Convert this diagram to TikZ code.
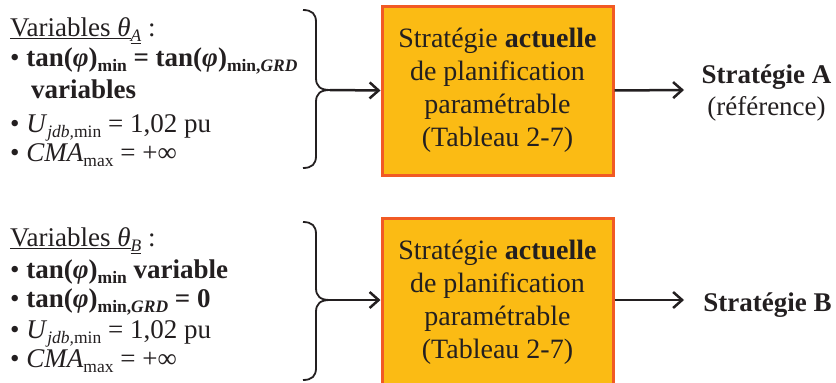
\documentclass[tikz,border=0pt]{standalone}
\usepackage{fontspec}
\setmainfont{Liberation Serif}
\usetikzlibrary{arrows.meta}
\definecolor{boxfill}{RGB}{251,187,20}
\definecolor{boxedge}{RGB}{241,90,36}
\definecolor{ink}{RGB}{35,31,32}
\newcommand\lsub[1]{\raisebox{-0.2em}{\fontsize{17.5}{18}\selectfont #1}}
\begin{document}
\begin{tikzpicture}[x=1pt,y=-1pt,
  every node/.style={text=ink, font=\fontsize{27}{33}\selectfont, inner sep=0pt},
  txtline/.style={anchor=base west},
  stratbox/.style={draw=boxedge, fill=boxfill, line width=3pt, minimum width=231pt,
    minimum height=169pt, align=center, font=\fontsize{28}{33}\selectfont},
  conn/.style={draw=ink, line width=2.5pt, -{Straight Barb[length=9pt,width=16pt]}},
  bracepath/.style={draw=ink, line width=1.8pt}]
\clip (0,0) rectangle (836,383);
% ---------- A ----------
\node[txtline] (a1) at (10,36) {\underline{Variables \textit{θ}}\lsub{\underline{\textit{A}}}~:};
\node[txtline] (a2) at (10,66) {• \textbf{tan(\textit{φ})\lsub{min} = tan(\textit{φ})\lsub{min,\textit{GRD}}}};
\node[txtline] (a3) at (31,98) {\textbf{variables}};
\node[txtline] (a4) at (10,132) {• \textit{U}\lsub{\textit{jdb,}min} = 1,02 pu};
\node[txtline] (a5) at (10,161) {• \textit{CMA}\lsub{max} = +∞};
\draw[bracepath] (303,10) .. controls (312,10) and (316,14) .. (316,22) -- (316,78)
  .. controls (316,86) and (320,90) .. (330,90)
  .. controls (320,90) and (316,94) .. (316,102) -- (316,156)
  .. controls (316,164) and (312,168) .. (303,168);
\coordinate (tipA) at (330,90);
\node[stratbox] (boxA) at (497.5,90.5) {Stratégie \textbf{actuelle}\\de planification\\paramétrable\\(Tableau 2-7)};
\coordinate (endA) at (684,90);
\draw[conn] (tipA) -- (boxA.west);
\draw[conn] (boxA.east) -- (endA);
\node[anchor=base] (stratA) at (766.5,83) {\textbf{Stratégie A}};
\node[anchor=base] (refA) at (766.5,115) {(référence)};
% ---------- B ----------
\node[txtline] (b1) at (10,246) {\underline{Variables \textit{θ}}\lsub{\underline{\textit{B}}}~:};
\node[txtline] (b2) at (10,278) {• \textbf{tan(\textit{φ})\lsub{min} variable}};
\node[txtline] (b3) at (10,307) {• \textbf{tan(\textit{φ})\lsub{min,\textit{GRD}} = 0}};
\node[txtline] (b4) at (10,338) {• \textit{U}\lsub{\textit{jdb,}min} = 1,02 pu};
\node[txtline] (b5) at (10,367) {• \textit{CMA}\lsub{max} = +∞};
\draw[bracepath] (303,222) .. controls (312,222) and (316,226) .. (316,234) -- (316,288)
  .. controls (316,296) and (320,300) .. (330,300)
  .. controls (320,300) and (316,304) .. (316,312) -- (316,368)
  .. controls (316,376) and (312,380) .. (303,380);
\coordinate (tipB) at (330,300);
\node[stratbox] (boxB) at (497.5,302.5) {Stratégie \textbf{actuelle}\\de planification\\paramétrable\\(Tableau 2-7)};
\coordinate (endB) at (684,300);
\draw[conn] (tipB) -- (tipB -| boxB.west);
\draw[conn] (boxB.east |- tipB) -- (endB);
\node[anchor=base] (stratB) at (767.5,311) {\textbf{Stratégie B}};
\end{tikzpicture}
\end{document}
